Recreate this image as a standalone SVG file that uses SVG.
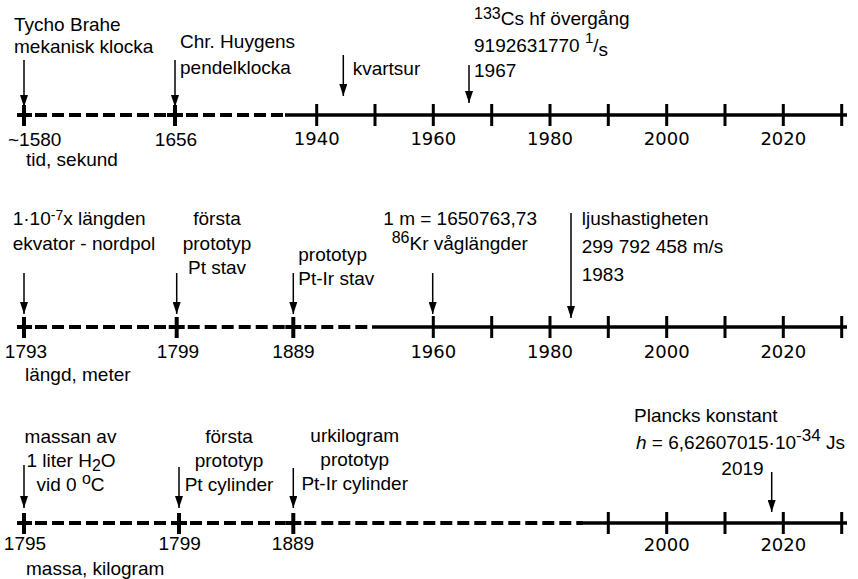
<svg xmlns="http://www.w3.org/2000/svg" width="858" height="579" viewBox="0 0 858 579">
<style>
.t{font-family:"Liberation Sans",Arial,sans-serif;font-size:19px;fill:#000}
.y{font-family:"DejaVu Sans",Verdana,sans-serif;font-size:18px;fill:#000;text-anchor:middle}
.m{text-anchor:middle}
.ax{stroke:#000;stroke-width:3.5;fill:none}
.ds{stroke:#000;stroke-width:4;fill:none;stroke-dasharray:12 5}
.tk{stroke:#000;stroke-width:3;fill:none}
.cr{stroke:#000;stroke-width:4;fill:none}
.ar{stroke:#000;stroke-width:1.5;fill:none;marker-end:url(#ah)}
.sup{font-size:16px}
</style>
<defs>
<marker id="ah" viewBox="0 0 12 8" refX="12" refY="4" markerWidth="12" markerHeight="8" markerUnits="userSpaceOnUse" orient="auto">
<path d="M0,0 L12,4 L0,8 z" fill="#000"/>
</marker>
</defs>
<rect width="858" height="579" fill="#fff"/>

<g id="axes">
<g id="axis-time">
<path class="cr" d="M17,115 H32 M24,105 V126 M167,115 H183 M175,105 V126"/>
<path class="ds" d="M35,115 H167 M186,115 H285"/>
<path class="ax" d="M285,115 H847"/>
<path class="tk" d="M316.7,104 V126 M375,104 V126 M433.3,104 V126 M491.7,104 V126 M550,104 V126 M608.3,104 V126 M666.7,104 V126 M725,104 V126 M783.3,104 V126 M841.7,104 V126"/>
<text class="t" x="8" y="146">~1580</text>
<text class="t m" x="176" y="146">1656</text>
<text class="y" x="316.7" y="145">1940</text>
<text class="y" x="433.3" y="145">1960</text>
<text class="y" x="550" y="145">1980</text>
<text class="y" x="666.7" y="145">2000</text>
<text class="y" x="783.3" y="145">2020</text>
<text class="t" x="26" y="166">tid, sekund</text>
</g>
<g id="axis-length">
<path class="cr" d="M17,327 H32 M24,317 V338 M168.7,327 H184.7 M176.7,317 V338 M285.3,327 H301.3 M293.3,317 V338"/>
<path class="ds" d="M35,327 H168.7 M187.7,327 H285.3 M304.3,327 H372"/>
<path class="ax" d="M372,327 H847"/>
<path class="tk" d="M433.3,316 V338 M491.7,316 V338 M550,316 V338 M608.3,316 V338 M666.7,316 V338 M725,316 V338 M783.3,316 V338 M841.7,316 V338"/>
<text class="t m" x="26" y="358">1793</text>
<text class="t m" x="178" y="358">1799</text>
<text class="t m" x="293.5" y="358">1889</text>
<text class="y" x="433.3" y="358">1960</text>
<text class="y" x="550" y="358">1980</text>
<text class="y" x="666.7" y="358">2000</text>
<text class="y" x="783.3" y="358">2020</text>
<text class="t" x="25" y="381">längd, meter</text>
</g>
<g id="axis-mass">
<path class="cr" d="M17,523 H32 M24,513 V534 M171,523 H187 M179,513 V534 M285.3,523 H301.3 M293.3,513 V534"/>
<path class="ds" d="M35,523 H171 M190,523 H285.3 M304.3,523 H583"/>
<path class="ax" d="M583,523 H847"/>
<path class="tk" d="M608.3,512 V534 M666.7,512 V534 M725,512 V534 M783.3,512 V534 M841.7,512 V534"/>
<text class="t m" x="25" y="550">1795</text>
<text class="t m" x="179.7" y="550">1799</text>
<text class="t m" x="293" y="550">1889</text>
<text class="y" x="666.7" y="551">2000</text>
<text class="y" x="783.3" y="551">2020</text>
<text class="t" x="26" y="575">massa, kilogram</text>
</g>
</g>

<g id="connectors">
<line class="ar" x1="24" y1="60" x2="24" y2="107"/>
<line class="ar" x1="175" y1="60" x2="175" y2="107"/>
<line class="ar" x1="343.3" y1="55" x2="343.3" y2="96"/>
<line class="ar" x1="469" y1="65" x2="469" y2="103"/>
<line class="ar" x1="24" y1="273" x2="24" y2="314"/>
<line class="ar" x1="176.7" y1="273" x2="176.7" y2="314"/>
<line class="ar" x1="293.3" y1="273" x2="293.3" y2="314"/>
<line class="ar" x1="432.7" y1="273" x2="432.7" y2="314"/>
<line class="ar" x1="571" y1="213" x2="571" y2="318"/>
<line class="ar" x1="24" y1="465" x2="24" y2="508"/>
<line class="ar" x1="179" y1="467" x2="179" y2="508"/>
<line class="ar" x1="293.3" y1="468" x2="293.3" y2="508"/>
<line class="ar" x1="771.7" y1="472" x2="771.7" y2="512"/>
</g>

<g id="n-tycho">
<text class="t" x="14" y="31">Tycho Brahe</text>
<text class="t" x="14" y="53">mekanisk klocka</text>
</g>
<g id="n-huygens">
<text class="t" x="180" y="48">Chr. Huygens</text>
<text class="t" x="180" y="74">pendelklocka</text>
</g>
<g id="n-kvarts">
<text class="t" x="352.7" y="75">kvartsur</text>
</g>
<g id="n-cesium">
<text class="t" x="474" y="25"><tspan class="sup" dy="-6">133</tspan><tspan dy="6">Cs hf övergång</tspan></text>
<text class="t" x="474" y="52">9192631770 <tspan font-size="15" dy="-9">1</tspan><tspan dy="9">/</tspan><tspan dy="4">s</tspan></text>
<text class="t" x="474" y="77">1967</text>
</g>

<g id="n-ekvator">
<text class="t" x="12.7" y="225">1·10<tspan font-size="14" dy="-5">-7</tspan><tspan dy="5">x längden</tspan></text>
<text class="t" x="12.7" y="250">ekvator - nordpol</text>
</g>
<g id="n-ptstav">
<text class="t m" x="217" y="225">första</text>
<text class="t m" x="217" y="250">prototyp</text>
<text class="t m" x="217" y="273.5">Pt stav</text>
</g>
<g id="n-ptirstav">
<text class="t" x="298.3" y="261">prototyp</text>
<text class="t" x="298.3" y="285">Pt-Ir stav</text>
</g>
<g id="n-krypton">
<text class="t" x="383.3" y="225">1 m = 1650763,73</text>
<text class="t" x="391.7" y="250"><tspan class="sup" dy="-7">86</tspan><tspan dy="7">Kr våglängder</tspan></text>
</g>
<g id="n-ljus">
<text class="t" x="581.7" y="225">ljushastigheten</text>
<text class="t" x="581.7" y="253">299 792 458 m/s</text>
<text class="t" x="581.7" y="280.5">1983</text>
</g>

<g id="n-vatten">
<text class="t m" x="70.5" y="443.3">massan av</text>
<text class="t m" x="71" y="467.3">1 liter H<tspan class="sup" dy="4">2</tspan><tspan dy="-4">O</tspan></text>
<text class="t m" x="70.5" y="491">vid 0 <tspan class="sup" dy="-7">o</tspan><tspan dy="7">C</tspan></text>
</g>
<g id="n-ptcyl">
<text class="t m" x="229" y="443.3">första</text>
<text class="t m" x="229" y="467.3">prototyp</text>
<text class="t m" x="229" y="491">Pt cylinder</text>
</g>
<g id="n-urkilogram">
<text class="t m" x="354.7" y="441.7">urkilogram</text>
<text class="t m" x="354.7" y="466">prototyp</text>
<text class="t m" x="354.7" y="490">Pt-Ir cylinder</text>
</g>
<g id="n-planck">
<text class="t" x="634" y="421.7">Plancks konstant</text>
<text class="t" x="636" y="449"><tspan font-style="italic">h</tspan> = 6,62607015·10<tspan font-size="17" dy="-8">-34</tspan><tspan dy="8"> Js</tspan></text>
<text class="t m" x="742.5" y="475">2019</text>
</g>
</svg>
